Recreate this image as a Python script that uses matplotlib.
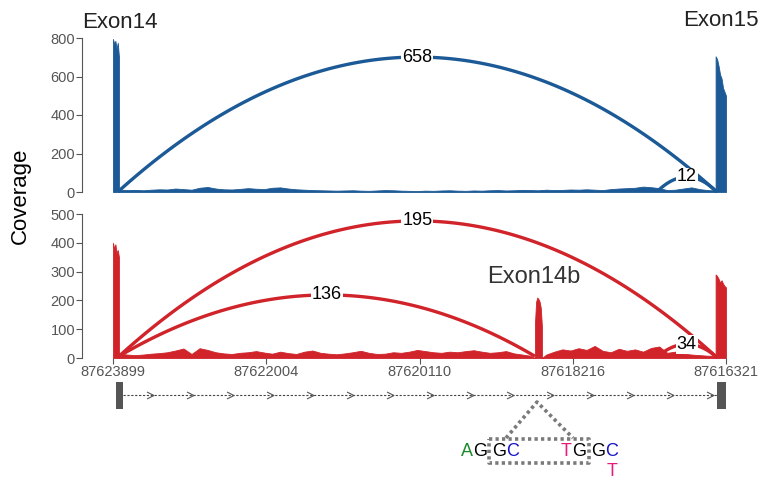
import numpy as np
import matplotlib
matplotlib.use('Agg')
import matplotlib.pyplot as plt
from matplotlib.patches import Rectangle

plt.rcParams['font.family'] = ['Liberation Sans', 'DejaVu Sans']

W, H = 765, 479
BLUE = '#1b5a96'
RED = '#d0232a'
GREY = '#555555'

# genomic layout (minus strand, drawn left to right)
xticks = [87623899, 87622004, 87620110, 87618216, 87616321]
exon14 = (87623899, 87623825)
exon15 = (87616450, 87616321)
exon14b = (87618683, 87618597)
gene_exon14 = (87623860, 87623780)
gene_exon15 = (87616430, 87616321)
chevrons = np.linspace(87623440, 87616520, 15)

# coverage
top_exon14_cov = [795, 770, 785, 745, 775, 700]
top_exon15_cov = [705, 690, 655, 610, 590, 540, 520, 500]
top_intron_cov = [12, 10, 11, 9, 12, 14, 13, 18, 15, 12,
                  22, 26, 18, 14, 13, 16, 20, 17, 15, 22,
                  24, 18, 14, 12, 10, 9, 8, 7, 8, 9,
                  7, 6, 8, 10, 9, 7, 6, 5, 7, 6,
                  8, 9, 7, 6, 8, 7, 9, 10, 8, 9,
                  11, 10, 9, 12, 10, 11, 13, 12, 14, 12,
                  10, 15, 18, 20, 22, 28, 25, 20, 10, 12,
                  18, 24, 15, 10, 8]

bottom_exon14_cov = [400, 380, 395, 365, 375, 350]
bottom_exon15_cov = [290, 285, 275, 262, 270, 258, 250, 245]
exon14b_cov = [120, 195, 210, 205, 196, 175, 110]
bottom_intron_cov = [15, 12, 10, 12, 15, 17, 20, 26, 33, 14,
                     34, 28, 20, 16, 14, 18, 20, 24, 19, 15,
                     22, 17, 14, 22, 26, 18, 15, 13, 16, 20,
                     25, 18, 14, 15, 20, 18, 22, 28, 24, 20,
                     18, 22, 20, 24, 27, 22, 18, 20, 24, 16,
                     12, 8, 6, 12, 22, 30, 26, 34, 28, 42,
                     25, 20, 32, 25, 30, 22, 35, 40, 18, 22,
                     15, 12, 10, 8, 8]

# junctions: (donor, acceptor, arc height, reads)
top_junctions = [(87623825, 87616450, 701, '658'),
                 (87617163, 87616450, 78, '12')]
bottom_junctions = [(87623825, 87616450, 476, '195'),
                    (87623825, 87618683, 219, '136'),
                    (87617163, 87616450, 48, '34')]


def px_box(left, top, right, bottom):
    return [left / W, 1 - bottom / H, (right - left) / W, (bottom - top) / H]


def draw_arc(ax, x0, x1, h, label, color, base=6):
    t = np.linspace(0, 1, 120)
    cx = (x0 + x1) / 2
    cy = 2 * h - base
    xs = (1 - t) ** 2 * x0 + 2 * (1 - t) * t * cx + t ** 2 * x1
    ys = (1 - t) ** 2 * base + 2 * (1 - t) * t * cy + t ** 2 * base
    ax.plot(xs, ys, color=color, lw=2.4, solid_capstyle='butt', zorder=3, clip_on=False)
    ax.text(cx, h, label, ha='center', va='center', fontsize=13, color='black', zorder=5,
            bbox=dict(fc='white', ec='none', pad=0.6))


def spike(seg, vals):
    xs = list(np.linspace(seg[0], seg[1], len(vals)))
    return [seg[0]] + xs + [seg[1]], [0] + list(vals) + [0]


def coverage(ax, color, ex14, ex15, intron, extra=None):
    ix = np.linspace(exon14[1], exon15[0], len(intron))
    iy = np.array(intron, dtype=float)
    x14, y14 = spike(exon14, ex14)
    x15, y15 = spike(exon15, ex15)
    if extra is None:
        xs = x14 + list(ix) + x15
        ys = y14 + list(iy) + y15
    else:
        xb, yb = spike(exon14b, extra)
        left = ix > exon14b[0]
        right = ix < exon14b[1]
        xs = x14 + list(ix[left]) + xb + list(ix[right]) + x15
        ys = y14 + list(iy[left]) + yb + list(iy[right]) + y15
    ax.fill_between(xs, 0, ys, color=color, lw=0.6, edgecolor=color)


def style(ax, ymax, step):
    ax.set_xlim(87624282, 87616272)
    ax.set_ylim(0, ymax)
    ax.set_yticks(np.arange(0, ymax + 1, step))
    for s in ['top', 'right', 'bottom']:
        ax.spines[s].set_visible(False)
    ax.spines['left'].set_color(GREY)
    ax.tick_params(axis='y', colors=GREY, labelsize=10.5, length=4, width=0.8, pad=1)
    ax.set_facecolor('none')


fig = plt.figure(figsize=(W / 100, H / 100), dpi=100)

ax1 = fig.add_axes(px_box(82, 38, 730, 192))
coverage(ax1, BLUE, top_exon14_cov, top_exon15_cov, top_intron_cov)
for d, a, h, n in top_junctions:
    draw_arc(ax1, d, a, h, n, BLUE)
style(ax1, 800, 200)
ax1.set_xticks([])

ax2 = fig.add_axes(px_box(82, 214, 730, 358))
coverage(ax2, RED, bottom_exon14_cov, bottom_exon15_cov, bottom_intron_cov, exon14b_cov)
for d, a, h, n in bottom_junctions:
    draw_arc(ax2, d, a, h, n, RED)
style(ax2, 500, 100)
ax2.set_xticks(xticks)
ax2.set_xticklabels([str(v) for v in xticks])
ax2.tick_params(axis='x', colors=GREY, labelsize=10.5, length=4, width=0.8, pad=1)

# gene model, y in pixel rows
ax3 = fig.add_axes(px_box(82, 375, 730, 479))
ax3.set_xlim(87624282, 87616272)
ax3.set_ylim(479, 375)
ax3.axis('off')
for e in [gene_exon14, gene_exon15]:
    ax3.add_patch(Rectangle((e[0], 382), e[1] - e[0], 27, color=GREY, lw=0))
ax3.plot([gene_exon14[1], gene_exon15[0]], [395, 395], color='#444444', lw=0.8, ls=(0, (2, 1.5)))
chev = [(-1, 1), (1, 0), (-1, -1)]
ax3.plot(chevrons, [395] * len(chevrons), ls='none', marker=chev, ms=5, mfc='none',
         mec='#555555', mew=0.8)

# splice-site annotation, pixel coordinates
ann = fig.add_axes([0, 0, 1, 1])
ann.set_xlim(0, W)
ann.set_ylim(H, 0)
ann.axis('off')
dot = dict(color='#7a7a7a', lw=2.6, ls=(0, (0.9, 0.9)))
ann.plot([506, 537, 573], [438, 402, 438], **dot)
ann.plot([489, 589, 589, 489, 489], [439, 439, 463, 463, 439], **dot)
letters = [('A', 467, '#1e8c2a'), ('G', 480, 'black'), ('G', 499, 'black'), ('C', 513, '#1414c8'),
           ('T', 566, '#e8197d'), ('G', 579, 'black'), ('G', 598, 'black'), ('C', 612, '#1414c8')]
for ch, x, c in letters:
    ann.text(x, 452, ch, color=c, fontsize=13, ha='center', va='center')
ann.text(612, 471, 'T', color='#e8197d', fontsize=13, ha='center', va='center')

fig.text(120 / W, 1 - 22 / H, 'Exon14', fontsize=16, ha='center', va='center', color='#222222')
fig.text(721 / W, 1 - 21 / H, 'Exon15', fontsize=16, ha='center', va='center', color='#222222')
fig.text(534 / W, 1 - 277 / H, 'Exon14b', fontsize=17, ha='center', va='center', color='#333333')
fig.text(20 / W, 1 - 196 / H, 'Coverage', fontsize=16, rotation=90, ha='center', va='center')

fig.savefig('out.png', dpi=100)
